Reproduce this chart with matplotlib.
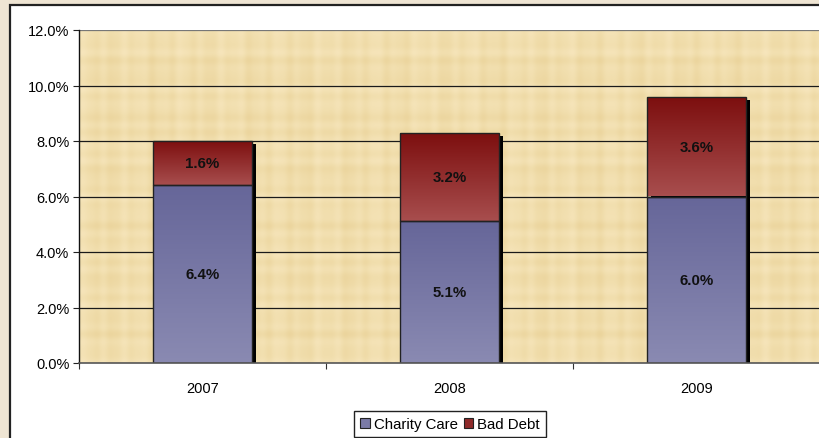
import numpy as np
import matplotlib
matplotlib.use("Agg")
import matplotlib.pyplot as plt
from matplotlib.patches import Rectangle, Patch
from matplotlib.transforms import ScaledTranslation
from matplotlib.colors import LinearSegmentedColormap

years = ["2007", "2008", "2009"]
charity_care = [6.4, 5.1, 6.0]
bad_debt = [1.6, 3.2, 3.6]
series_names = ["Charity Care", "Bad Debt"]
y_ticks = [0, 2, 4, 6, 8, 10, 12]

plt.rcParams['font.family'] = ['Liberation Sans', 'DejaVu Sans']

W, H = 820, 439
fig = plt.figure(figsize=(W / 100, H / 100), dpi=100)
fig.patch.set_facecolor('#efe5d3')

# white chart area with dark border
chart = Rectangle((10 / W, -0.1), 1.2, 1 - 6 / H + 0.1, transform=fig.transFigure,
                  facecolor='white', edgecolor='#222222', linewidth=1.6, zorder=-5)
fig.patches.append(chart)

ax = fig.add_axes([79 / W, 1 - 364 / H, 741 / W, (364 - 31) / H])
ax.set_facecolor('#f1dead')
ax.set_xlim(-0.5, 2.5)
ax.set_ylim(0, 12)

# subtle papyrus-like weave texture (decorative background only)
tx = np.arange(741)
ty = np.arange(333)
vx = 0.5 * np.sin(tx / 3.1) + 0.3 * np.sin(tx / 7.7 + 1.0) + 0.2 * np.sin(tx / 1.7)
vy = 0.5 * np.sin(ty / 2.9 + 0.5) + 0.3 * np.sin(ty / 8.3) + 0.2 * np.sin(ty / 1.9 + 2.0)
tex = 0.5 * vx[None, :] + 0.5 * vy[:, None]
tex_cmap = LinearSegmentedColormap.from_list('p', ['#ebd49c', '#f1dead', '#f7e6bd'])
ax.imshow(tex, cmap=tex_cmap, aspect='auto', extent=[-0.5, 2.5, 0, 12],
          zorder=0, interpolation='bilinear')

x = np.arange(len(years))
width = 0.40

# grid
for t in y_ticks[1:]:
    ax.axhline(t, color='#1a1a1a' if t < 12 else '#777777', linewidth=0.9, zorder=1)

totals = [c + b for c, b in zip(charity_care, bad_debt)]
shadow_tr = ax.transData + ScaledTranslation(4 / 100, -3 / 100, fig.dpi_scale_trans)
ax.bar(x, totals, width=width, color='black', zorder=2, transform=shadow_tr)

blue_cmap = LinearSegmentedColormap.from_list('b', ['#8a8ab2', '#666699'])
red_cmap = LinearSegmentedColormap.from_list('r', ['#a84e4e', '#7c0e0e'])
grad = np.linspace(0, 1, 256).reshape(-1, 1)

def grad_bars(bottoms, heights, cmap):
    bars = ax.bar(x, heights, width=width, bottom=bottoms, color='none',
                  edgecolor='#222222', linewidth=1.0, zorder=4)
    for b in bars:
        x0, y0 = b.get_x(), b.get_y()
        w, h = b.get_width(), b.get_height()
        im = ax.imshow(grad, cmap=cmap, aspect='auto', origin='lower',
                       extent=[x0, x0 + w, y0, y0 + h], zorder=3)
        im.set_clip_path(b)
    return bars

cc_bars = grad_bars([0] * 3, charity_care, blue_cmap)
bd_bars = grad_bars(charity_care, bad_debt, red_cmap)
ax.set_xlim(-0.5, 2.5)
ax.set_ylim(0, 12)

for i in range(len(years)):
    ax.text(x[i], charity_care[i] / 2, f"{charity_care[i]:.1f}%", ha='center', va='center',
            fontsize=10.8, fontweight='bold', color='#111111', zorder=5)
    ax.text(x[i], charity_care[i] + bad_debt[i] / 2, f"{bad_debt[i]:.1f}%", ha='center',
            va='center', fontsize=10.8, fontweight='bold', color='#111111', zorder=5)

ax.set_yticks(y_ticks)
ax.set_yticklabels([f"{t:.1f}%" for t in y_ticks], fontsize=10.5)
ax.set_xticks(x)
ax.set_xticklabels(years, fontsize=10.5)
ax.set_xticks([-0.5, 0.5, 1.5, 2.5], minor=True)
ax.tick_params(axis='x', which='major', length=0, pad=13)
ax.tick_params(axis='x', which='minor', length=4, color='#333333', width=0.8)
ax.tick_params(axis='y', length=4, color='#222222', width=0.8, pad=3)

for s in ['top', 'right']:
    ax.spines[s].set_visible(False)
ax.spines['left'].set_color('#111111')
ax.spines['left'].set_linewidth(1.0)
ax.spines['bottom'].set_color('#555555')
ax.spines['bottom'].set_linewidth(1.2)
ax.spines['bottom'].set_zorder(6)

handles = [Patch(facecolor='#7a7aa6', edgecolor='#222222', linewidth=0.8),
           Patch(facecolor='#8e2a2a', edgecolor='#222222', linewidth=0.8)]
leg = fig.legend(handles, series_names, loc='upper center',
                 bbox_to_anchor=(450 / W, 1 - 412 / H), ncol=2, fontsize=10.8,
                 frameon=True, fancybox=False, framealpha=1, edgecolor='#222222',
                 handlelength=0.65, handleheight=0.65, handletextpad=0.25,
                 columnspacing=0.4, borderpad=0.4, borderaxespad=0)
leg.get_frame().set_linewidth(1.0)

fig.savefig('out.png', dpi=100, facecolor=fig.get_facecolor())
